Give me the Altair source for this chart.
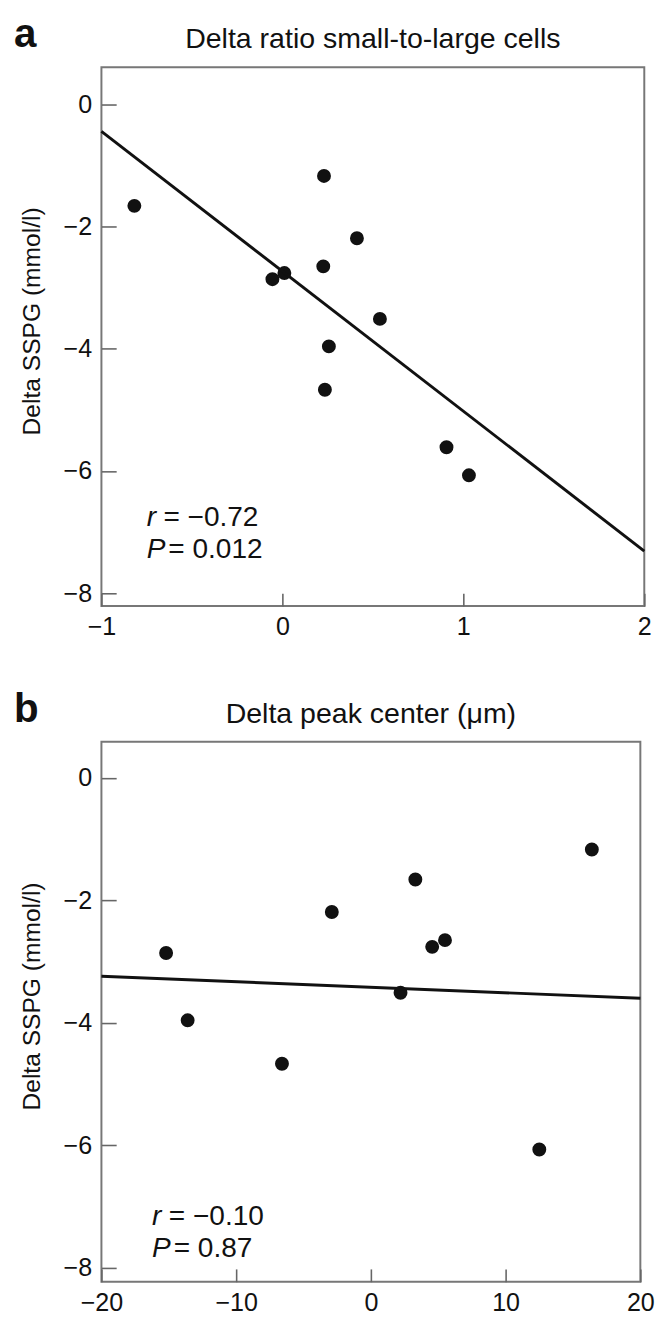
import altair as alt
import pandas as pd

FONT = "Liberation Sans"
INK = "#111111"

# ---- data ----
y_ticks = [0, -2, -4, -6, -8]

a_title = "Delta ratio small-to-large cells"
a_x = [-0.818, 0.230, 0.412, 0.226, 0.011, -0.055, 0.539, 0.257, 0.235, 0.907, 1.031]
a_y = [-1.66, -1.17, -2.19, -2.65, -2.76, -2.86, -3.51, -3.96, -4.67, -5.61, -6.07]
a_fit_x = [-1, 2]
a_fit_y = [-0.44, -7.31]
a_xticks = [-1, 0, 1, 2]
a_r = "= \u22120.72"
a_p = "= 0.012"

b_title = "Delta peak center (\u03bcm)"
b_x = [-15.2, -13.6, -6.6, -2.9, 3.3, 4.55, 5.5, 2.2, 12.5, 16.4]
b_y = [-2.86, -3.96, -4.67, -2.19, -1.66, -2.76, -2.65, -3.51, -6.07, -1.17]
b_fit_x = [-20, 20]
b_fit_y = [-3.24, -3.60]
b_xticks = [-20, -10, 0, 10, 20]
b_r = "= \u22120.10"
b_p = "= 0.87"

TICK_FS = 25.5
ANN_FS = 28.5


def panel(letter, title, px, py, fx, fy, xdom, ydom, xticks, rtxt, ptxt,
          ann_x, ann_r_y, ann_p_y, w, h):
    xs = alt.Scale(domain=xdom, nice=False, zero=False)
    ys = alt.Scale(domain=ydom, nice=False, zero=False)
    xaxis = alt.Axis(values=xticks, format="d", offset=-13, tickSize=13, domain=False,
                     grid=False, labelPadding=9, labelFontSize=TICK_FS, labelFont=FONT,
                     labelColor=INK, tickColor="#666666", tickWidth=1.6, title=None,
                     labelFlush=False)
    yaxis = alt.Axis(values=y_ticks, format="d", offset=-15, tickSize=15, domain=False,
                     grid=False, labelPadding=10, labelFontSize=TICK_FS, labelFont=FONT,
                     labelColor=INK, tickColor="#666666", tickWidth=1.6,
                     title="Delta SSPG (mmol/l)", titleFont=FONT, titleFontSize=25,
                     titleFontWeight="normal", titleColor=INK, titlePadding=19,
                     titleY=h / 2 - 16)

    pts = pd.DataFrame({"x": px, "y": py})
    fit = pd.DataFrame({"x": fx, "y": fy})

    points = alt.Chart(pts).mark_circle(size=200, color=INK, opacity=1).encode(
        x=alt.X("x:Q", scale=xs, axis=xaxis),
        y=alt.Y("y:Q", scale=ys, axis=yaxis),
    )
    line = alt.Chart(fit).mark_line(color=INK, strokeWidth=3).encode(
        x=alt.X("x:Q", scale=xs),
        y=alt.Y("y:Q", scale=ys),
    )
    ann = pd.DataFrame({"x": [ann_x, ann_x], "y": [ann_r_y, ann_p_y],
                        "sym": ["r", "P"], "rest": [rtxt, ptxt]})
    sym = alt.Chart(ann).mark_text(align="left", baseline="middle", fontSize=ANN_FS,
                                   font=FONT, fontStyle="italic", color=INK).encode(
        x=alt.X("x:Q", scale=xs), y=alt.Y("y:Q", scale=ys), text="sym:N")
    rest_r = alt.Chart(ann.iloc[[0]]).mark_text(align="left", baseline="middle",
                                                fontSize=ANN_FS, font=FONT, color=INK,
                                                dx=17).encode(
        x=alt.X("x:Q", scale=xs), y=alt.Y("y:Q", scale=ys), text="rest:N")
    rest_p = alt.Chart(ann.iloc[[1]]).mark_text(align="left", baseline="middle",
                                                fontSize=ANN_FS, font=FONT, color=INK,
                                                dx=22).encode(
        x=alt.X("x:Q", scale=xs), y=alt.Y("y:Q", scale=ys), text="rest:N")
    lab = alt.Chart(pd.DataFrame({"t": [letter]})).mark_text(
        align="left", baseline="alphabetic", fontSize=41, font=FONT,
        fontWeight="bold", color=INK).encode(
        x=alt.value(-89), y=alt.value(-20), text="t:N")
    ttl = alt.Chart(pd.DataFrame({"t": [title]})).mark_text(
        align="center", baseline="alphabetic", fontSize=29, font=FONT,
        color=INK).encode(
        x=alt.value(w / 2), y=alt.value(-19), text="t:N")

    return alt.layer(points, line, sym, rest_r, rest_p, lab, ttl).properties(
        width=w, height=h)


pa = panel("a", a_title, a_x, a_y, a_fit_x, a_fit_y, [-1, 2], [-8.21, 0.61], a_xticks,
           a_r, a_p, -0.75, -6.76, -7.28, 552, 548)
pb = panel("b", b_title, b_x, b_y, b_fit_x, b_fit_y, [-20, 20], [-8.23, 0.59], b_xticks,
           b_r, b_p, -16.24, -7.16, -7.69, 548, 549)

chart = alt.vconcat(pa, pb, spacing=48).properties(
    padding={"left": 5, "top": -5, "right": 5, "bottom": 5}
).configure_view(stroke="#777777", strokeWidth=2)

chart.save("out.html", embed_options={"renderer": "svg", "actions": False})
